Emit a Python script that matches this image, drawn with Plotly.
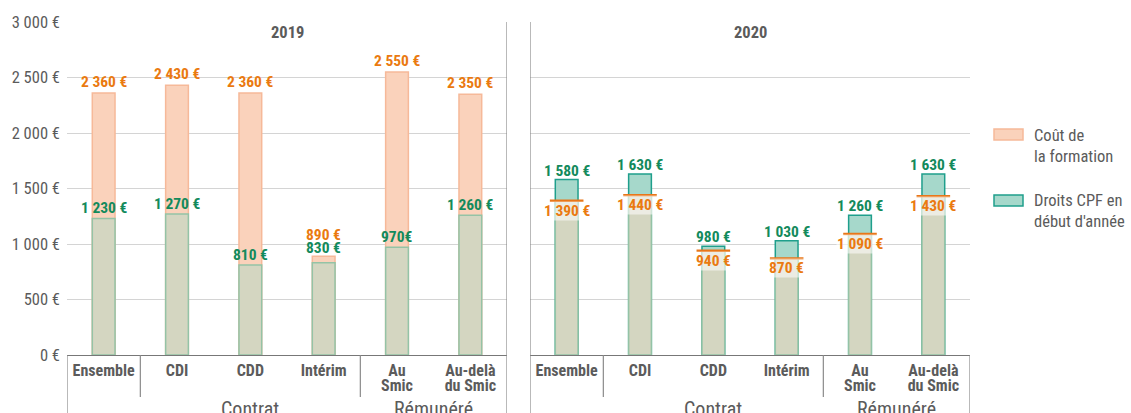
import plotly.graph_objects as go

categories = ["Ensemble", "CDI", "CDD", "Intérim", "Au Smic", "Au-delà du Smic"]
tick_labels = ["Ensemble", "CDI", "CDD", "Intérim", "Au<br>Smic", "Au-delà<br>du Smic"]
groups = [("Contrat", 1, 3), ("Rémunéré", 4, 5)]

cout_2019 = [2360, 2430, 2360, 890, 2550, 2350]
droits_2019 = [1230, 1270, 810, 830, 970, 1260]
cout_2020 = [1390, 1440, 940, 870, 1090, 1430]
droits_2020 = [1580, 1630, 980, 1030, 1260, 1630]

cout_2019_lbl = ["2 360 €", "2 430 €", "2 360 €", "890 €", "2 550 €", "2 350 €"]
droits_2019_lbl = ["1 230 €", "1 270 €", "810 €", "830 €", "970€", "1 260 €"]
cout_2020_lbl = ["1 390 €", "1 440 €", "940 €", "870 €", "1 090 €", "1 430 €"]
droits_2020_lbl = ["1 580 €", "1 630 €", "980 €", "1 030 €", "1 260 €", "1 630 €"]

y_ticks = [0, 500, 1000, 1500, 2000, 2500, 3000]
y_tick_lbl = ["0 €", "500 €", "1 000 €", "1 500 €", "2 000 €", "2 500 €", "3 000 €"]

W, H = 1131, 413
L, R, T, B = 67, 161, 22, 58
PW = W - L - R
PH = H - T - B

FONT = "Roboto Condensed, Liberation Sans Narrow, Arial Narrow, DejaVu Sans Condensed, sans-serif"
GRAY = "#5b5b5b"
ORANGE_T = "#ea7a10"
GREEN_T = "#138a5c"
PEACH = "#fad2bb"
PEACH_L = "#f6b999"
OLIVE = "#d4d6c1"
OLIVE_L = "#94c3a6"
TEAL = "#a6d8cb"
TEAL_L = "#1f9f8c"
ORANGE_L = "#e8771a"
LINE = "#8a8a8a"

styled_ticks = ["<br>".join("<span style='font-size:16px'>%s</span>" % p for p in t.split("<br>"))
                for t in tick_labels]

fig = go.Figure()
BW = 0.31

# 2019
fig.add_trace(go.Bar(x=categories, y=cout_2019, width=BW, marker=dict(color=PEACH, line=dict(color=PEACH_L, width=1.5)),
                     xaxis="x", yaxis="y", showlegend=False, hoverinfo="skip"))
fig.add_trace(go.Bar(x=categories, y=droits_2019, width=BW, marker=dict(color=OLIVE, line=dict(color=OLIVE_L, width=1.5)),
                     xaxis="x", yaxis="y", showlegend=False, hoverinfo="skip"))
# 2020
fig.add_trace(go.Bar(x=categories, y=droits_2020, width=BW, marker=dict(color=TEAL, line=dict(color=TEAL_L, width=1.5)),
                     xaxis="x2", yaxis="y2", showlegend=False, hoverinfo="skip"))
fig.add_trace(go.Bar(x=categories, y=cout_2020, width=BW, marker=dict(color=OLIVE, line=dict(color=OLIVE_L, width=1.5)),
                     xaxis="x2", yaxis="y2", showlegend=False, hoverinfo="skip"))
fig.add_trace(go.Scatter(x=categories, y=cout_2020, mode="markers",
                         marker=dict(symbol="line-ew", size=24, line=dict(color=ORANGE_L, width=2.5)),
                         xaxis="x2", yaxis="y2", showlegend=False, hoverinfo="skip"))

d1 = [0, 440 / PW]
d2 = [463 / PW, 1]
axis_common = dict(type="category", showgrid=False, zeroline=False, showline=True, linecolor="#777", linewidth=1,
                   ticks="", tickfont=dict(family=FONT, size=11.5, color=GRAY, weight="bold"), range=[-0.5, 5.5],
                   tickmode="array", tickvals=categories, ticktext=styled_ticks,
                   automargin=False, ticklabelstandoff=6)
fig.update_layout(
    width=W, height=H, margin=dict(l=L, r=R, t=T, b=B),
    paper_bgcolor="white", plot_bgcolor="white", barmode="overlay",
    xaxis=dict(domain=d1, anchor="y", **axis_common),
    xaxis2=dict(domain=d2, anchor="y2", **axis_common),
    yaxis=dict(range=[0, 3000], tickvals=y_ticks, ticktext=y_tick_lbl, showgrid=True, gridcolor="#d4d4d4",
               gridwidth=1, zeroline=False, ticks="", tickfont=dict(family=FONT, size=16.5, color=GRAY),
               ticklabelstandoff=6, automargin=False),
    yaxis2=dict(range=[0, 3000], tickvals=y_ticks, showticklabels=False, showgrid=True, gridcolor="#d4d4d4",
                gridwidth=1, zeroline=False, anchor="x2", automargin=False),
    showlegend=False,
)

ann = []
shapes = []

def lbl(xref, yref, x, y, text, color, ys, bg=None):
    d = dict(xref=xref, yref=yref, x=x, y=y, text=text, showarrow=False, yshift=ys,
             font=dict(family=FONT, size=15.5, color=color, weight="bold"))
    if bg:
        d.update(bgcolor=bg, borderpad=0)
    ann.append(d)

for i, c in enumerate(categories):
    # 2019
    if cout_2019[i] - droits_2019[i] < 150:
        lbl("x", "y", c, cout_2019[i], cout_2019_lbl[i], ORANGE_T, 21)
        lbl("x", "y", c, cout_2019[i], droits_2019_lbl[i], GREEN_T, 8)
    else:
        lbl("x", "y", c, cout_2019[i], cout_2019_lbl[i], ORANGE_T, 11)
        lbl("x", "y", c, droits_2019[i], droits_2019_lbl[i], GREEN_T, 10)
    # 2020
    lbl("x2", "y2", c, droits_2020[i], droits_2020_lbl[i], GREEN_T, 9)
    lbl("x2", "y2", c, cout_2020[i], cout_2020_lbl[i], ORANGE_T, -10, bg="rgba(255,255,255,0.55)")

# panel titles
for xr, t in (("x domain", "2019"), ("x2 domain", "2020")):
    ann.append(dict(xref=xr, yref="paper", x=0.5, y=1, yanchor="middle", yshift=-10, text=t, showarrow=False,
                    font=dict(family=FONT, size=16.5, color=GRAY, weight="bold")))

# group labels
for xr in ("x", "x2"):
    for name, a, b in groups:
        ann.append(dict(xref=xr, yref="paper", x=(a + b) / 2, y=0, yanchor="middle", yshift=-54, text=name,
                        showarrow=False, font=dict(family=FONT, size=20, color=GRAY)))

# dividers
def vline(xref, x, y0, y1):
    shapes.append(dict(type="line", xref=xref, yref="paper", x0=x, x1=x, y0=y0, y1=y1,
                       line=dict(color=LINE, width=1.2)))

bot = -(H - T - PH) / PH - 0.05
sep = -42 / PH
vline("x", -0.5, bot, 0)
vline("x", 0.5, sep, 0)
vline("x", 3.5, sep, 0)
vline("x", 5.5, bot, 1)
vline("x2", -0.5, bot, 1)
vline("x2", 0.5, sep, 0)
vline("x2", 3.5, sep, 0)
vline("x2", 5.5, bot, 0)

# legend
def px_x(px):
    return (px - L) / PW

def px_y(py):
    return (H - B - py) / PH

legend_items = [("Coût de<br>la formation", PEACH, PEACH_L, 129, 140, 146),
                ("Droits CPF en<br>début d'année", TEAL, TEAL_L, 195, 206, 211)]
for text, fill, lc, y0, y1, ty in legend_items:
    shapes.append(dict(type="rect", xref="paper", yref="paper", x0=px_x(994), x1=px_x(1023), y0=px_y(y1), y1=px_y(y0),
                       fillcolor=fill, line=dict(color=lc, width=1.5)))
    ann.append(dict(xref="paper", yref="paper", x=px_x(1032), y=px_y(ty), xanchor="left", yanchor="middle",
                    text=text, align="left", showarrow=False, font=dict(family=FONT, size=16.5, color=GRAY)))

fig.update_layout(annotations=ann, shapes=shapes)
fig.write_html("out.html", config={"displayModeBar": False},
               post_script="document.body.style.margin='0px';")
